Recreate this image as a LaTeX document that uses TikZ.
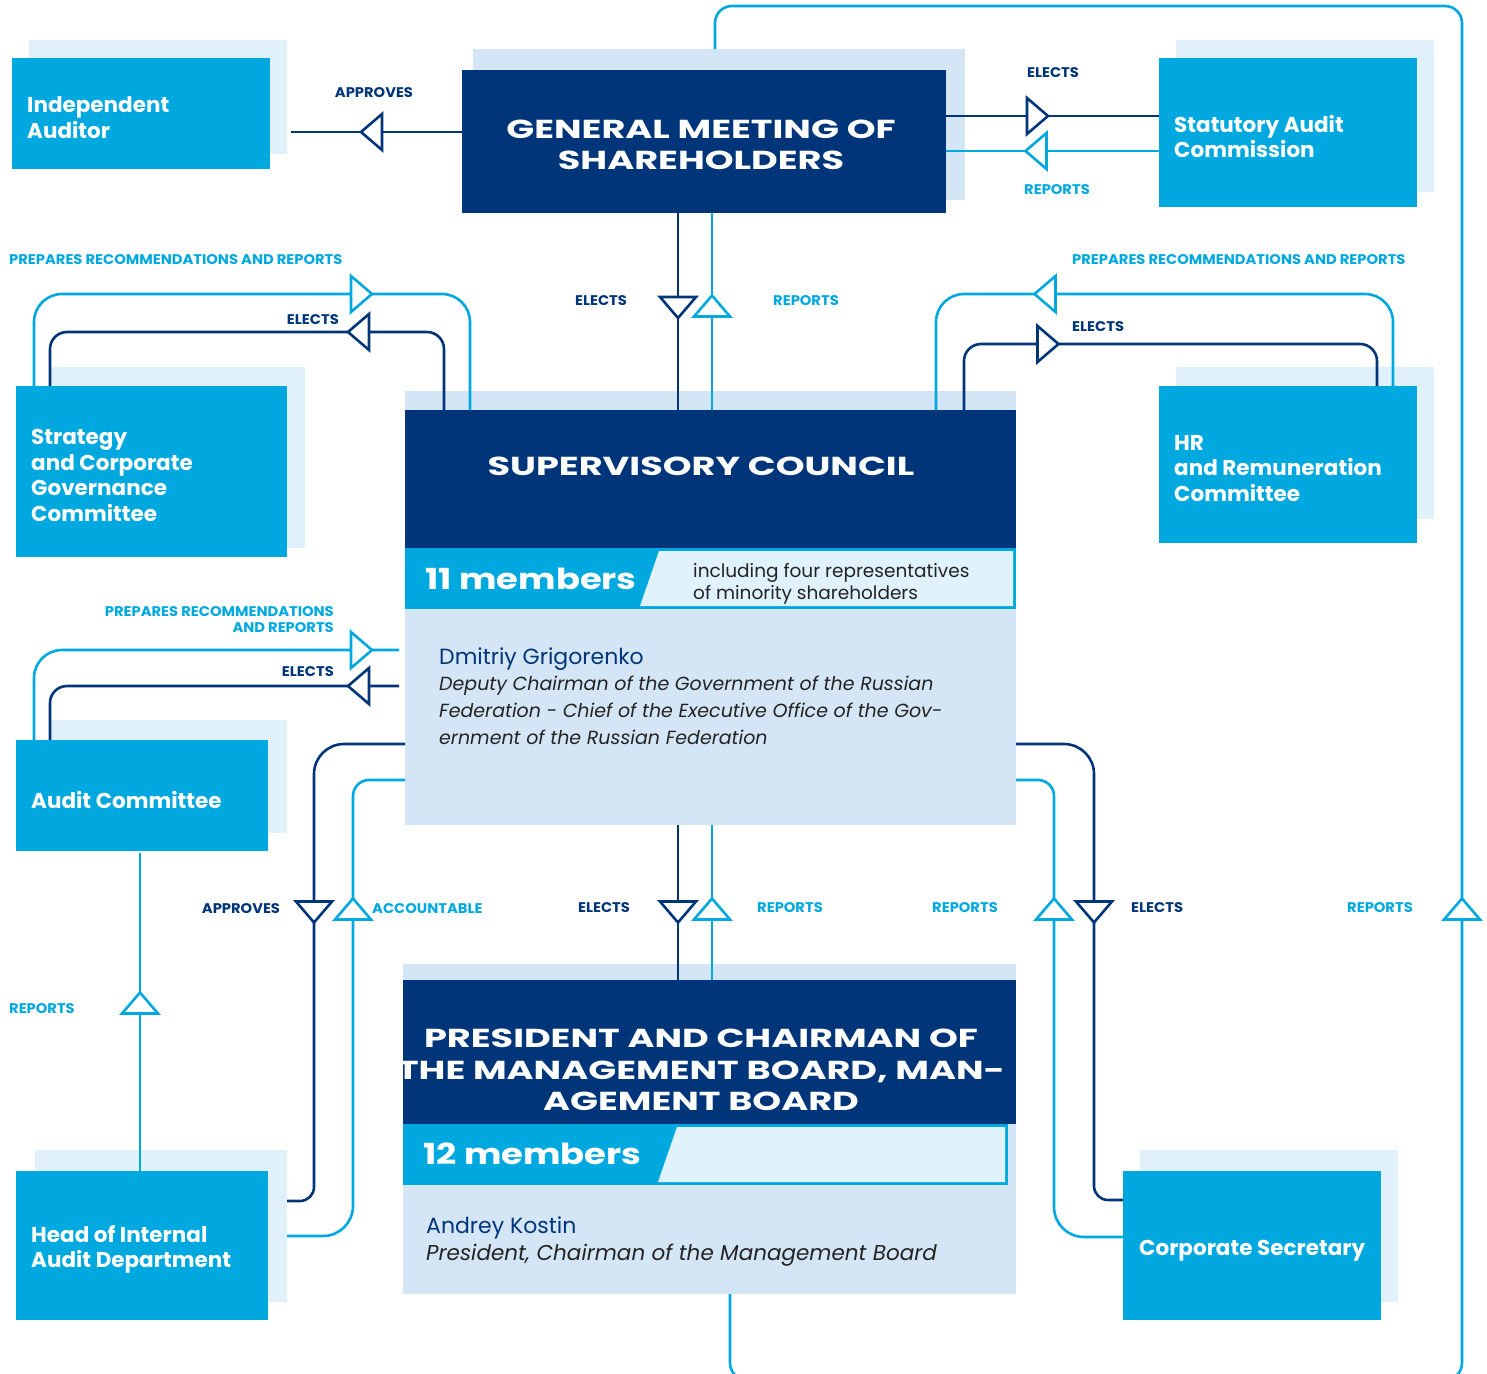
\documentclass[tikz,border=0pt]{standalone}
\usepackage{fontspec}
\setmainfont{Poppins}
\newfontfamily\headfont[FakeStretch=1.41]{Poppins}
\newfontfamily\membfont[FakeStretch=1.22]{Poppins}
\newfontfamily\lblfont[FakeStretch=1.05]{Poppins}
\usetikzlibrary{calc}
\definecolor{navy}{RGB}{0,54,121}
\definecolor{cyanc}{RGB}{0,168,224}
\definecolor{paleshadow}{RGB}{224,241,251}
\definecolor{bodyc}{RGB}{212,230,245}
\definecolor{bandlight}{RGB}{224,242,252}
\definecolor{ink}{RGB}{35,35,35}
\newcommand\triR[3]{\draw[tri,draw=#3,shift={(#1,#2)}] (10.5,0) -- (-10.5,-18) -- (-10.5,18) -- cycle;}
\newcommand\triL[3]{\draw[tri,draw=#3,shift={(#1,#2)}] (-10.5,0) -- (10.5,-18) -- (10.5,18) -- cycle;}
\newcommand\triU[3]{\draw[tri,draw=#3,shift={(#1,#2)}] (0,-10.5) -- (-18,10.5) -- (18,10.5) -- cycle;}
\newcommand\triD[3]{\draw[tri,draw=#3,shift={(#1,#2)}] (0,10.5) -- (-18,-10.5) -- (18,-10.5) -- cycle;}
\tikzset{
  navyline/.style={draw=navy, line width=2.6pt},
  cyanline/.style={draw=cyanc, line width=2.6pt},
  tri/.style={fill=white, line width=2.6pt, line join=miter},
  cbox/.style={fill=cyanc, inner sep=0pt, outer sep=0pt, anchor=north west},
  boxtext/.style={text=white, font=\bfseries\fontsize{21.5}{25.5}\selectfont, align=left, inner sep=0pt, anchor=west},
  shadebox/.style={fill=paleshadow, inner sep=0pt, outer sep=0pt, anchor=north west},
  bodybox/.style={fill=bodyc, inner sep=0pt, outer sep=0pt, anchor=north west},
  navybox/.style={fill=navy, inner sep=0pt, outer sep=0pt, anchor=north west},
  headtext/.style={text=white, font=\headfont\bfseries\fontsize{26}{31.5}\selectfont, align=center, inner sep=0pt},
  lbln/.style={text=navy, font=\lblfont\bfseries\fontsize{14}{16}\selectfont, inner sep=0pt},
  lblc/.style={text=cyanc, font=\lblfont\bfseries\fontsize{14}{16}\selectfont, inner sep=0pt},
  nametext/.style={text=navy, font=\fontsize{22}{27}\selectfont, inner sep=0pt, anchor=base west},
  roletext/.style={text=ink, font=\itshape\fontsize{19}{27}\selectfont, inner sep=0pt, anchor=base west},
  membtext/.style={text=white, font=\membfont\bfseries\fontsize{29}{34}\selectfont, inner sep=0pt, anchor=base west},
  notetext/.style={text=ink, font=\fontsize{18.5}{22}\selectfont, inner sep=0pt, anchor=base west}
}
\begin{document}
\begin{tikzpicture}[x=1pt,y=-1pt]
\useasboundingbox (0,0) rectangle (1487,1373);
\clip (0,0) rectangle (1487,1373);
% ---------- shadows and bodies
\node[shadebox, minimum width=258pt, minimum height=114pt] (iash) at (29,40) {};
\node[shadebox, minimum width=258pt, minimum height=152pt] (sacsh) at (1176,40) {};
\node[shadebox, minimum width=255pt, minimum height=181pt] (stratsh) at (50,367) {};
\node[shadebox, minimum width=258pt, minimum height=152pt] (hrsh) at (1176,367) {};
\node[shadebox, minimum width=237pt, minimum height=113pt] (auditsh) at (50,720) {};
\node[shadebox, minimum width=252pt, minimum height=152pt] (headsh) at (35,1150) {};
\node[shadebox, minimum width=258pt, minimum height=152pt] (corpsh) at (1140,1150) {};
\node[bodybox, minimum width=492pt, minimum height=151pt] (gmsh) at (473,49) {};
\node[bodybox, minimum width=611pt, minimum height=434pt] (sc) at (405,391) {};
\node[bodybox, minimum width=613pt, minimum height=330pt] (pres) at (403,964) {};
% ---------- main boxes
\node[cbox, minimum width=258pt, minimum height=111pt] (ia) at (12,58) {};
\node[boxtext] (iat) at ($(ia.west)+(15,4)$) {Independent\\Auditor};
\node[cbox, minimum width=258pt, minimum height=149pt] (sac) at (1159,58) {};
\node[boxtext] (sact) at ($(sac.west)+(15,4)$) {Statutory Audit\\Commission};
\node[cbox, minimum width=271pt, minimum height=171pt] (strat) at (16,386) {};
\node[boxtext] (stratt) at ($(strat.west)+(15,4)$) {Strategy\\and Corporate\\Governance\\Committee};
\node[cbox, minimum width=258pt, minimum height=157pt] (hr) at (1159,386) {};
\node[boxtext] (hrt) at ($(hr.west)+(15,4)$) {HR\\and Remuneration\\Committee};
\node[cbox, minimum width=252pt, minimum height=111pt] (audit) at (16,740) {};
\node[boxtext] (auditt) at ($(audit.west)+(15,4)$) {Audit Committee};
\node[cbox, minimum width=252pt, minimum height=149pt] (head) at (16,1171) {};
\node[boxtext] (headt) at ($(head.west)+(15,4)$) {Head of Internal\\Audit Department};
\node[cbox, minimum width=258pt, minimum height=149pt] (corp) at (1123,1171) {};
\node[boxtext] (corpt) at ($(corp.west)+(16,5)$) {Corporate Secretary};
\node[navybox, minimum width=484pt, minimum height=143pt] (gm) at (462,70) {};
\node[headtext] (gmtext) at (701,145) {GENERAL MEETING OF\\SHAREHOLDERS};
% supervisory council
\node[navybox, minimum width=611pt, minimum height=138pt] (schead) at (405,410) {};
\node[headtext] (sctext) at (701,466) {SUPERVISORY COUNCIL};
\fill[cyanc] (405,548) rectangle (1016,609);
\fill[bandlight] (659,551) -- (1013,551) -- (1013,606) -- (640,606) -- cycle;
\node[membtext] (scmemb) at (425,589) {11 members};
\node[notetext] (scnote1) at (693,577) {including four representatives};
\node[notetext] (scnote2) at (693,599) {of minority shareholders};
\node[nametext] (scname) at (439,664) {Dmitriy Grigorenko};
\node[roletext] (scrole1) at (439,690) {Deputy Chairman of the Government of the Russian};
\node[roletext] (scrole2) at (439,717) {Federation - Chief of the Executive Office of the Gov-};
\node[roletext] (scrole3) at (439,744) {ernment of the Russian Federation};
% president
\node[navybox, minimum width=613pt, minimum height=144pt] (preshead) at (403,980) {};
\node[headtext] (prestext) at (701,1070) {PRESIDENT AND CHAIRMAN OF\\THE MANAGEMENT BOARD, MAN-\\AGEMENT BOARD};
\fill[cyanc] (403,1124) rectangle (1008,1185);
\fill[bandlight] (677,1127) -- (1005,1127) -- (1005,1182) -- (658,1182) -- cycle;
\node[membtext] (presmemb) at (423,1164) {12 members};
\node[nametext] (presname) at (426,1233) {Andrey Kostin};
\node[roletext, font=\itshape\fontsize{21.5}{27}\selectfont] (presrole) at (426,1260) {President, Chairman of the Management Board};
% ---------- connectors
% GM <-> Independent Auditor
\draw[navyline, shorten >=4pt] (gm.west |- 0,132) -- (iash.east |- 0,132);
% GM <-> Statutory Audit Commission
\draw[navyline] (gm.east |- 0,116) -- (sac.west |- 0,116);
\draw[cyanline] (sac.west |- 0,151) -- (gm.east |- 0,151);
% GM <-> SC
\draw[navyline] (gm.south -| 678,0) -- (schead.north -| 678,0);
\draw[cyanline] (schead.north -| 712,0) -- (gm.south -| 712,0);
% Strategy <-> SC
\draw[cyanline, rounded corners=28pt] (strat.north -| 34,0) |- (470,294) -- (schead.north -| 470,0);
\draw[navyline, rounded corners=17pt] (schead.north -| 444,0) |- (50,332) -- (strat.north -| 50,0);
% HR <-> SC
\draw[cyanline, rounded corners=28pt] (hr.north -| 1393,0) |- (936,294) -- (schead.north -| 936,0);
\draw[navyline, rounded corners=17pt] (schead.north -| 964,0) |- (1377,344) -- (hr.north -| 1377,0);
% Audit Committee <-> SC
\draw[cyanline, rounded corners=28pt, shorten >=6pt] (audit.north -| 34,0) |- (sc.west |- 0,650);
\draw[navyline, rounded corners=17pt, shorten <=6pt] (sc.west |- 0,686) -| (audit.north -| 50,0);
% Head of internal audit <-> Audit Committee
\draw[cyanline] (head.north -| 140,0) -- ($(audit.south -| 140,0)+(0,2)$);
% SC <-> Head of internal audit
\draw[navyline] (sc.west |- 0,744) [rounded corners=30pt] -| (314,1000) [rounded corners=14pt] |- (headsh.east |- 0,1201);
\draw[cyanline] (headsh.east |- 0,1236) [rounded corners=30pt] -| (353,1000) [rounded corners=16pt] |- (sc.west |- 0,780);
% SC <-> President
\draw[navyline] (sc.south -| 678,0) -- (preshead.north -| 678,0);
\draw[cyanline] (preshead.north -| 712,0) -- (sc.south -| 712,0);
% SC <-> Corporate Secretary
\draw[navyline] (sc.east |- 0,744) [rounded corners=30pt] -| (1094,1000) [rounded corners=14pt] |- (corp.west |- 0,1200);
\draw[cyanline] (corp.west |- 0,1237) [rounded corners=30pt] -| (1054,1000) [rounded corners=16pt] |- (sc.east |- 0,780);
% President -> GM (big loop)
\draw[cyanline, rounded corners=17pt] (pres.south -| 730,0) -- (730,1380) -- (1462,1380) -- (1462,6) -- (715,6) -- (gmsh.north -| 715,0);
% ---------- open triangles
\triL{371.5}{132}{navy}
\triR{1037.5}{116}{navy}
\triL{1036}{151}{cyanc}
\triD{678}{307.5}{navy}
\triU{712}{306}{cyanc}
\triR{361.5}{294}{cyanc}
\triL{358.5}{332}{navy}
\triL{1045}{294}{cyanc}
\triR{1048}{344}{navy}
\triR{361.5}{650}{cyanc}
\triL{358.5}{686}{navy}
\triU{140}{1003}{cyanc}
\triD{314}{912}{navy}
\triU{353}{909}{cyanc}
\triD{678}{912}{navy}
\triU{712}{909}{cyanc}
\triU{1054}{909}{cyanc}
\triD{1094}{912}{navy}
\triU{1462}{909}{cyanc}
% ---------- labels
\node[lbln] (l1) at (374,93) {APPROVES};
\node[lbln] (l2) at (1053,73) {ELECTS};
\node[lblc] (l3) at (1057,190) {REPORTS};
\node[lblc, anchor=west] (l4) at (9,260) {PREPARES RECOMMENDATIONS AND REPORTS};
\node[lblc, anchor=west] (l5) at (1072,260) {PREPARES RECOMMENDATIONS AND REPORTS};
\node[lbln, anchor=east] (l6) at (339,320) {ELECTS};
\node[lbln, anchor=west] (l7) at (1072,327) {ELECTS};
\node[lbln] (l8) at (601,301) {ELECTS};
\node[lblc] (l9) at (806,301) {REPORTS};
\node[lblc, anchor=east] (l10) at (334,612) {PREPARES RECOMMENDATIONS};
\node[lblc, anchor=east] (l11) at (334,628) {AND REPORTS};
\node[lbln, anchor=east] (l12) at (334,672) {ELECTS};
\node[lbln] (l13) at (241,909) {APPROVES};
\node[lblc, anchor=west] (l14) at (372,909) {ACCOUNTABLE};
\node[lbln] (l15) at (604,908) {ELECTS};
\node[lblc] (l16) at (790,908) {REPORTS};
\node[lblc] (l17) at (965,908) {REPORTS};
\node[lbln, anchor=west] (l18) at (1131,908) {ELECTS};
\node[lblc] (l19) at (1380,908) {REPORTS};
\node[lblc, anchor=west] (l20) at (9,1009) {REPORTS};
\end{tikzpicture}
\end{document}
